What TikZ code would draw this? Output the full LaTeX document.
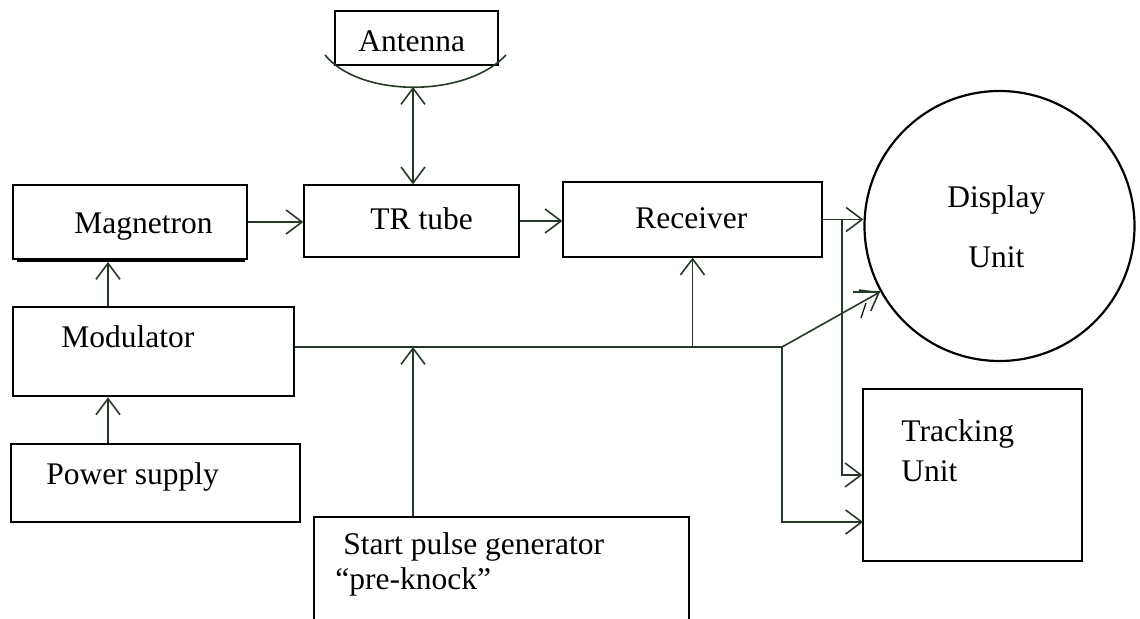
\documentclass[tikz,border=0pt]{standalone}
\usepackage{fontspec}
\setmainfont{Liberation Serif}
\usetikzlibrary{arrows.meta,positioning}
\definecolor{wirecol}{RGB}{38,56,38}

\begin{document}
\begin{tikzpicture}[x=0.5pt,y=-0.5pt,
    >={Straight Barb[length=8pt,width=12pt]},
    blk/.style={draw=black,line width=0.6pt,inner sep=0pt},
    thkblk/.style={blk,line width=1.4pt},
    lbl/.style={anchor=base west,inner sep=0pt,font=\fontsize{15.75}{19}\selectfont},
    wire/.style={draw=wirecol,line width=0.8pt}]
    \useasboundingbox (0,0) rectangle (1140,619);

    % Blocks
    \node[blk, minimum width=117pt, minimum height=37pt] (mag) at (130,222) {};
    \node[blk, minimum width=107.5pt, minimum height=36pt] (tr) at (411.5,221) {};
    \node[thkblk, minimum width=81.5pt, minimum height=27pt] (ant) at (416.5,38) {};
    \node[blk, minimum width=129.5pt, minimum height=37.5pt] (rec) at (692.5,219.5) {};
    \node[circle, draw, line width=1.1pt, minimum size=135pt, inner sep=0pt] (disp) at (999.5,226) {};
    \node[blk, minimum width=109.5pt, minimum height=86pt] (trk) at (972.5,475) {};
    \node[thkblk, minimum width=140.5pt, minimum height=44.5pt] (mod) at (153.5,351.5) {};
    \node[thkblk, minimum width=144.5pt, minimum height=39pt] (pwr) at (155.5,483) {};
    \node[thkblk, minimum width=187.5pt, minimum height=63pt] (spg) at (501.5,580) {};

    % Texts
    \node[lbl] (magtxt) at (74,234) {Magnetron};
    \node[lbl] (trtxt) at (370,230) {TR tube};
    \node[lbl] (anttxt) at (358,52) {Antenna};
    \node[lbl] (rectxt) at (635,229) {Receiver};
    \node[lbl] (disptxt) at (947,208) {Display};
    \node[lbl] (disptxtb) at (968,268) {Unit};
    \node[lbl] (trktxt) at (901,442) {Tracking};
    \node[lbl] (trktxtb) at (901,482) {Unit};
    \node[lbl] (modtxt) at (61,348) {Modulator};
    \node[lbl] (pwrtxt) at (46,485) {Power supply};
    \node[lbl] (spgtxt) at (343,555) {Start pulse generator};
    \node[lbl] (spgtxtb) at (335,589) {``pre-knock''};

    % Shadow under magnetron and antenna dish
    \draw[line width=0.9pt] ([xshift=2.5pt,yshift=-0.8pt]mag.south west) -- ([xshift=-1.5pt,yshift=-0.8pt]mag.south east);
    \draw[wire] (325,55) .. controls (360,98) and (466,98) .. (506,55);

    % Helper points
    \coordinate (colx) at (108,0);
    \coordinate (dish) at (413,87);
    \coordinate (tap) at (842,0);
    \coordinate (bus) at (782,347);
    \coordinate (hit) at (880,292);
    \coordinate (trklow) at (863,522);

    % Connections
    \draw[wire,->] (pwr.north -| colx) -- (mod.south -| colx);
    \draw[wire,->] (mod.north -| colx) -- ([yshift=-1.2pt]mag.south -| colx);
    \draw[wire,->] (mag.east) -- (tr.west |- mag.east);
    \draw[wire,<->] (dish) -- (tr.north -| dish);
    \draw[wire,->] (tr.east) -- (rec.west |- tr.east);
    \draw[wire,->] (rec.east) -- (disp.west |- rec.east);
    \draw[wire,->] (rec.east -| tap) -- (trk.west -| tap) -- (trk.west);
    \draw[wire,line width=1.4pt] (842,397) -- (842,419);
    \draw[wire] (mod.east |- bus) -- (bus);
    \draw[wire,->] (spg.north -| dish) -- (bus -| dish);
    \draw[wire,->] (bus -| rec.south) -- (rec.south);
    \draw[wire,->] (bus) -- (hit);
    \draw[wire] (853,292) -- (hit);
    \draw[line width=0.6pt] (866,303) -- (861,318);
    \draw[wire,->] (bus) |- (trklow);
\end{tikzpicture}
\end{document}
